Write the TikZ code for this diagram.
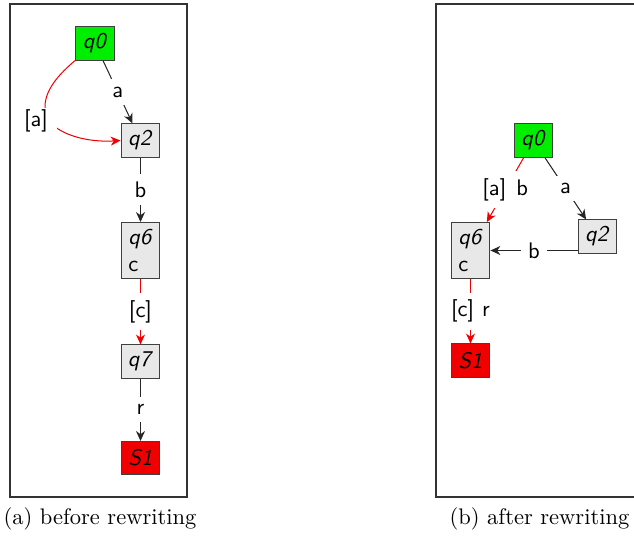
\documentclass[tikz,border=0pt]{standalone}
\usetikzlibrary{arrows.meta}
\definecolor{initgreen}{RGB}{0,238,0}
\definecolor{finalred}{RGB}{240,0,0}
\definecolor{edgered}{RGB}{240,0,0}
\begin{document}
\begin{tikzpicture}[x=0.4444pt,y=-0.4444pt,
  state/.style={draw=black!75, line width=0.45pt, font=\sffamily,
    minimum width=17.3pt, minimum height=14.7pt, inner sep=3pt},
  plainst/.style={state, fill=black!9},
  initst/.style={state, fill=initgreen},
  finalst/.style={state, fill=finalred},
  edge/.style={draw=black!85, line width=0.45pt,
    -{Stealth[length=4.4pt,width=4pt,inset=1.4pt]}},
  redge/.style={edge, draw=edgered},
  lbl/.style={fill=white, font=\sffamily, inner sep=3.3pt},
  frame/.style={draw=black!80, line width=0.6pt},
  caption/.style={font=\normalsize}
]
\useasboundingbox (0,0) rectangle (634,539);

% frames of the two sub-pictures
\draw[frame] (10,4) rectangle (187,497);
\draw[frame] (436,4) rectangle (660,497);

% (a) before rewriting
\node[initst] (lq0) at (95,43.5) {\textit{q0}};
\node[plainst] (lq2) at (140.5,140.5) {\textit{q2}};
\node[plainst, align=left] (lq6) at (140.5,250.5) {\textit{q6}\\c};
\node[plainst] (lq7) at (140.5,361.5) {\textit{q7}};
\node[finalst] (ls1) at (140.5,458) {\textit{S1}};

\draw[edge] (lq0) -- node[lbl]{a} (lq2);
\draw[edge] (lq2) -- node[lbl]{b} (lq6);
\draw[redge] (lq6) -- node[lbl]{[c]} (lq7);
\draw[edge] (lq7) -- node[lbl]{r} (ls1);
\draw[redge] (lq0.south west) .. controls (52,80) and (44,95) .. (45,110)
  .. controls (46,130) and (80,143) .. (lq2.west);
\node[lbl, inner xsep=4pt, inner ysep=1pt] (lbla) at (36,121) {[a]};

% (b) after rewriting
\node[initst] (rq0) at (533.5,140.5) {\textit{q0}};
\node[plainst] (rq2) at (597.5,236.5) {\textit{q2}};
\node[plainst, align=left] (rq6) at (470.5,250.5) {\textit{q6}\\c};
\node[finalst] (rs1) at (470.5,360.5) {\textit{S1}};

\draw[redge] (rq0) -- node[lbl]{[a]\hspace{4.5pt}b} (rq6);
\draw[edge] (rq0) -- node[lbl]{a} (rq2);
\draw[edge] (rq2.west |- rq6.east) -- node[lbl]{b} (rq6.east);
\draw[redge] (rq6) -- node[lbl]{[c]\hspace{3.5pt}r} (rs1);

% captions
\node[caption] (capa) at (100,519) {(a) before rewriting};
\node[caption] (capb) at (539.5,519) {(b) after rewriting};
\end{tikzpicture}
\end{document}
